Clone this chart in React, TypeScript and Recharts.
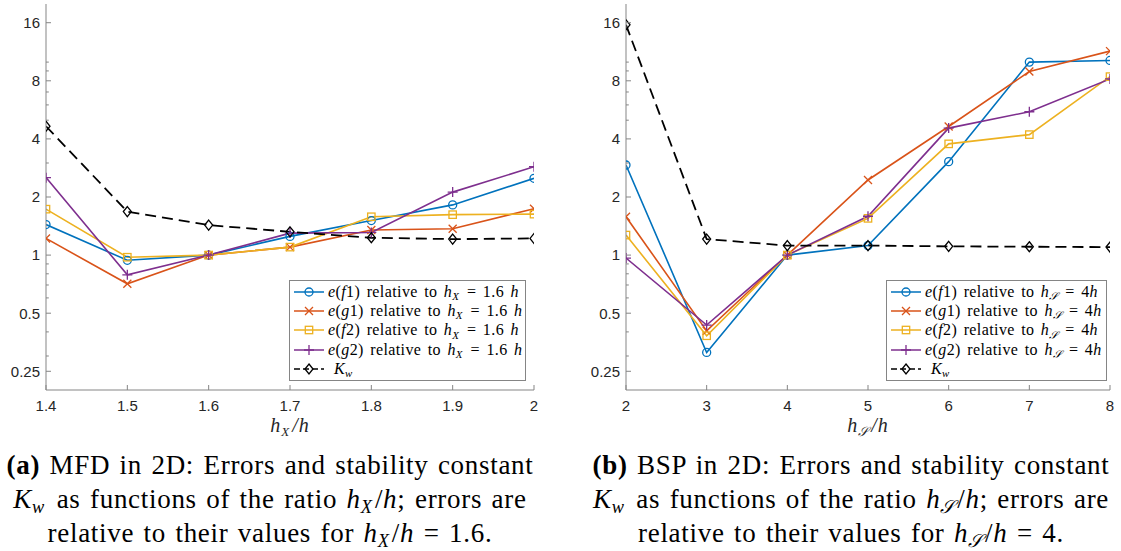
import React from 'react';
import { LineChart, Line, XAxis, YAxis } from 'recharts';

// left panel: MFD, x = h_X / h
const mfdRatio = [1.4, 1.5, 1.6, 1.7, 1.8, 1.9, 2];
const mfdF1 = [1.44, 0.94, 1, 1.25, 1.51, 1.82, 2.5];
const mfdG1 = [1.22, 0.71, 1, 1.1, 1.35, 1.37, 1.74];
const mfdF2 = [1.73, 0.975, 1, 1.1, 1.58, 1.62, 1.63];
const mfdG2 = [2.52, 0.79, 1, 1.3, 1.31, 2.12, 2.87];
const mfdKw = [4.65, 1.68, 1.43, 1.32, 1.23, 1.21, 1.22];

// right panel: BSP, x = h_S / h
const bspRatio = [2, 3, 4, 5, 6, 7, 8];
const bspF1 = [2.93, 0.313, 1, 1.12, 3.05, 10.0, 10.2];
const bspG1 = [1.58, 0.405, 1, 2.45, 4.64, 8.93, 11.4];
const bspF2 = [1.27, 0.382, 1, 1.55, 3.77, 4.21, 8.41];
const bspG2 = [0.965, 0.434, 1, 1.59, 4.55, 5.53, 8.18];
const bspKw = [15.6, 1.21, 1.12, 1.12, 1.11, 1.105, 1.1];

const yMajor = [0.25, 0.5, 1, 2, 4, 8, 16];
const yMinor = [0.3, 0.4, 0.6, 0.7, 0.8, 0.9, 3, 5, 6, 7, 9, 10];
const yDomain: [number, number] = [0.2, 20];

const series = [
  { key: 'f1', fn: 'f', idx: '1', color: '#0072BD', shape: 'circle' },
  { key: 'g1', fn: 'g', idx: '1', color: '#D95319', shape: 'x' },
  { key: 'f2', fn: 'f', idx: '2', color: '#EDB120', shape: 'square' },
  { key: 'g2', fn: 'g', idx: '2', color: '#7E2F8E', shape: 'plus' },
];

const AXIS = '#262626';
const BOX = '#858585';
const SERIF = '"Liberation Serif", "DejaVu Serif", serif';
const SANS = '"Liberation Sans", Arial, sans-serif';

function Marker({ cx, cy, shape, color }: any) {
  if (cx == null || cy == null) return null;
  const sw = 1.3;
  switch (shape) {
    case 'circle':
      return <circle cx={cx} cy={cy} r={4} fill="none" stroke={color} strokeWidth={sw} />;
    case 'x':
      return <path d={`M${cx - 4},${cy - 4}L${cx + 4},${cy + 4}M${cx - 4},${cy + 4}L${cx + 4},${cy - 4}`} stroke={color} strokeWidth={sw} />;
    case 'square':
      return <rect x={cx - 3.7} y={cy - 3.7} width={7.4} height={7.4} fill="none" stroke={color} strokeWidth={sw} />;
    case 'plus':
      return <path d={`M${cx - 5},${cy}L${cx + 5},${cy}M${cx},${cy - 5}L${cx},${cy + 5}`} stroke={color} strokeWidth={sw} />;
    default:
      return <path d={`M${cx},${cy - 5}L${cx + 4},${cy}L${cx},${cy + 5}L${cx - 4},${cy}Z`} fill="none" stroke={color} strokeWidth={sw} />;
  }
}

const isMajor = (v: number) => yMajor.includes(v);

function LeftTick(props: any) {
  const { x, y, payload } = props;
  const ax = x + 6;
  const len = isMajor(payload.value) ? 5 : 2.8;
  return (
    <g>
      <line x1={ax} x2={ax + len} y1={y} y2={y} stroke={BOX} strokeWidth={1} />
      {isMajor(payload.value) && (
        <text x={x} y={y} dy="0.36em" textAnchor="end" fontFamily={SANS} fontSize={15} fill={AXIS}>
          {payload.value}
        </text>
      )}
    </g>
  );
}

function RightTick(props: any) {
  const { x, y, payload } = props;
  const len = isMajor(payload.value) ? 5 : 2.8;
  return <line x1={x} x2={x - len} y1={y} y2={y} stroke={BOX} strokeWidth={1} />;
}

function BottomTick(props: any) {
  const { x, y, payload } = props;
  const ay = y - 8;
  return (
    <g>
      <line x1={x} x2={x} y1={ay} y2={ay - 5} stroke={BOX} strokeWidth={1} />
      <text x={x} y={y + 13} textAnchor="middle" fontFamily={SANS} fontSize={15} fill={AXIS}>
        {payload.value}
      </text>
    </g>
  );
}

function TopTick(props: any) {
  const { x, y } = props;
  return <line x1={x} x2={x} y1={y} y2={y + 5} stroke={BOX} strokeWidth={1} />;
}

function XTitle({ viewBox, sub }: any) {
  const cx = viewBox.x + viewBox.width / 2;
  const by = viewBox.y + 42;
  return (
    <text x={cx} y={by} textAnchor="middle" fontFamily={SERIF} fontSize={20} fill={AXIS} fontStyle="italic" letterSpacing={1}>
      <tspan>h</tspan>
      <tspan fontSize={13} dy={4}>{sub}</tspan>
      <tspan dy={-4} dx={2}>/h</tspan>
    </text>
  );
}

type PanelProps = {
  left: number;
  width: number;
  marginRight: number;
  xs: number[];
  f1: number[];
  g1: number[];
  f2: number[];
  g2: number[];
  kw: number[];
  sub: string;
};

function Panel({ left, width, marginRight, xs, f1, g1, f2, g2, kw, sub }: PanelProps) {
  const rows = xs.map((x, i) => ({ x, f1: f1[i], g1: g1[i], f2: f2[i], g2: g2[i], kw: kw[i] }));
  const allY = [...yMajor, ...yMinor].sort((a, b) => a - b);
  const xDomain: [number, number] = [xs[0], xs[xs.length - 1]];
  return (
    <div style={{ position: 'absolute', left, top: 0 }}>
      <LineChart width={width} height={440} data={rows} margin={{ top: 4, right: marginRight, bottom: 10, left: 6 }}>
        <XAxis xAxisId="b" dataKey="x" type="number" domain={xDomain} ticks={xs} height={40}
          axisLine={{ stroke: BOX }} tickLine={false} tickSize={0} tickMargin={8} tick={<BottomTick />}
          label={<XTitle sub={sub} />} interval={0} allowDataOverflow />
        <XAxis xAxisId="t" orientation="top" dataKey="x" type="number" domain={xDomain} ticks={xs} height={0}
          axisLine={{ stroke: BOX }} tickLine={false} tickSize={0} tickMargin={0} tick={<TopTick />} interval={0} allowDataOverflow />
        <YAxis yAxisId="l" scale="log" type="number" domain={yDomain} ticks={allY} width={40}
          axisLine={{ stroke: BOX }} tickLine={false} tickSize={0} tickMargin={6} tick={<LeftTick />} interval={0} allowDataOverflow />
        <YAxis yAxisId="r" orientation="right" scale="log" type="number" domain={yDomain} ticks={allY} width={0}
          axisLine={{ stroke: BOX }} tickLine={false} tickSize={0} tickMargin={0} tick={<RightTick />} interval={0} allowDataOverflow />
        {series.map((s) => (
          <Line key={s.key} xAxisId="b" yAxisId="l" dataKey={s.key} stroke={s.color} strokeWidth={1.6}
            isAnimationActive={false}
            dot={(p: any) => <Marker key={`${s.key}-${p.index}`} cx={p.cx} cy={p.cy} shape={s.shape} color={s.color} />} />
        ))}
        <Line xAxisId="b" yAxisId="l" dataKey="kw" stroke="#000" strokeWidth={1.8} strokeDasharray="11 6"
          isAnimationActive={false}
          dot={(p: any) => <Marker key={`kw-${p.index}`} cx={p.cx} cy={p.cy} shape="diamond" color="#000" />} />
      </LineChart>
    </div>
  );
}

const subStyle: React.CSSProperties = {
  fontSize: '0.68em', verticalAlign: '-0.28em', lineHeight: 0, fontStyle: 'italic', paddingRight: '0.12em',
};

function LegendBox({ left, top, width, sub, refVal }: any) {
  const rowH = 19.4;
  const rowStyle: React.CSSProperties = {
    display: 'flex', alignItems: 'center', height: rowH, fontFamily: SERIF, fontSize: 16,
    letterSpacing: 0.4, wordSpacing: 2, color: '#000', whiteSpace: 'nowrap',
  };
  const sample = (shape: string, color: string, dashed?: boolean) => (
    <svg width={34} height={14} style={{ flex: 'none' }}>
      <line x1={2} x2={32} y1={7} y2={7} stroke={color} strokeWidth={1.5} strokeDasharray={dashed ? '6 3' : undefined} />
      <Marker cx={17} cy={7} shape={shape} color={color} />
    </svg>
  );
  return (
    <div style={{ position: 'absolute', left, top, width, height: 101, boxSizing: 'border-box', border: `1px solid ${BOX}`, background: '#fff', paddingTop: 1, paddingLeft: 2 }}>
      {series.map((s) => (
        <div key={s.key} style={rowStyle}>
          {sample(s.shape, s.color)}
          <span style={{ marginLeft: 2 }}>
            <i>e</i>(<i>{s.fn}</i>{s.idx}) relative to <i>h</i><span style={subStyle}>{sub}</span> = {refVal}
          </span>
        </div>
      ))}
      <div style={rowStyle}>
        {sample('diamond', '#000', true)}
        <span style={{ marginLeft: 8 }}>
          <i>K</i><span style={subStyle}>w</span>
        </span>
      </div>
    </div>
  );
}

function Caption({ center, tag, title, sub, val }: any) {
  const width = 600;
  return (
    <div style={{
      position: 'absolute', left: center - width / 2, top: 448, width, textAlign: 'center', fontFamily: SERIF,
      fontSize: 27, lineHeight: '34px', letterSpacing: 0.7, wordSpacing: 2, color: '#000', whiteSpace: 'nowrap',
    }}>
      <div><b>({tag})</b> {title} in 2D: Errors and stability constant</div>
      <div><i>K</i><span style={subStyle}>w</span> as functions of the ratio <i>h</i><span style={subStyle}>{sub}</span>/<i>h</i>; errors are</div>
      <div>relative to their values for <i>h</i><span style={subStyle}>{sub}</span>/<i>h</i> = {val}.</div>
    </div>
  );
}

export default function App() {
  return (
    <div style={{ position: 'absolute', left: 0, top: 0, width: 1121, height: 551, background: '#fff', overflow: 'hidden' }}>
      <Panel left={0} width={560} marginRight={26} xs={mfdRatio} f1={mfdF1} g1={mfdG1} f2={mfdF2} g2={mfdG2} kw={mfdKw} sub="X" />
      <Panel left={580} width={541} marginRight={11} xs={bspRatio} f1={bspF1} g1={bspG1} f2={bspF2} g2={bspG2} kw={bspKw} sub="𝒮" />
      <LegendBox left={289} top={280} width={237} sub="X" refVal={<>1.6 <i>h</i></>} />
      <LegendBox left={886} top={280} width={221} sub="𝒮" refVal={<>4<i>h</i></>} />
      <Caption center={270} tag="a" title="MFD" sub="X" val="1.6" />
      <Caption center={851} tag="b" title="BSP" sub="𝒮" val="4" />
    </div>
  );
}
